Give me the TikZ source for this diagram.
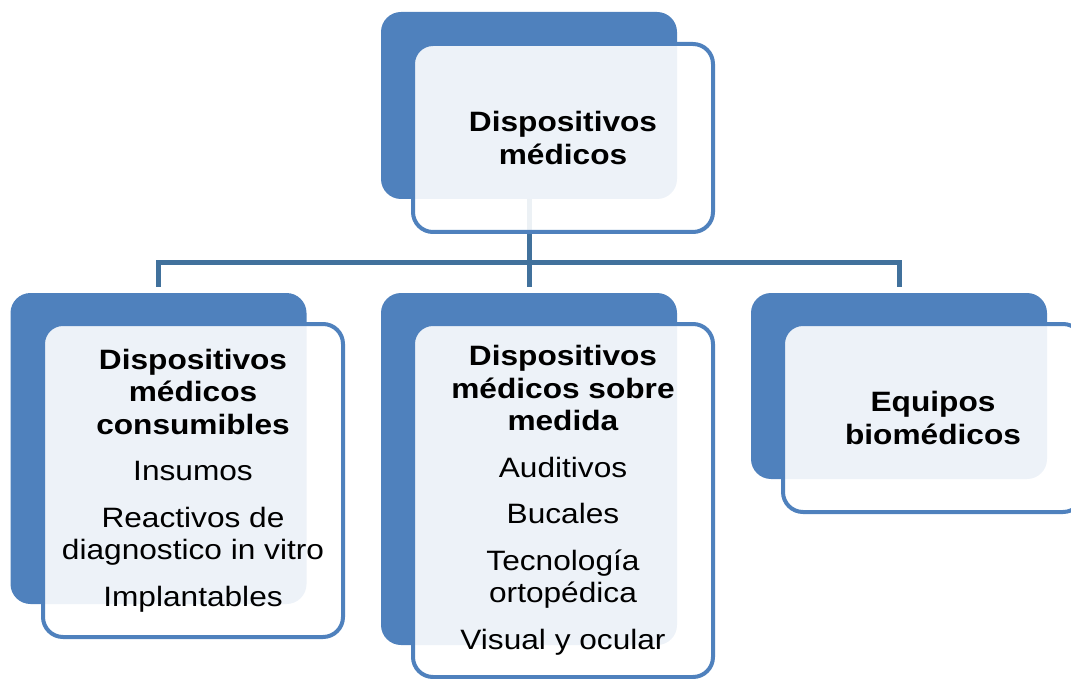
\documentclass[tikz,border=0pt]{standalone}
\usepackage{fontspec}
\setmainfont[FakeStretch=1.13]{Liberation Sans}
\definecolor{accent}{HTML}{4F81BD}
\definecolor{conncol}{HTML}{41719C}
\tikzset{
  backbox/.style={fill=accent, draw=none, rounded corners=20pt, minimum width=296pt, inner sep=0pt},
  frontbox/.style={draw=accent, line width=4pt, fill=white, fill opacity=0.9, text opacity=1,
    rounded corners=20pt, minimum width=300pt, inner sep=0pt, align=center,
    font=\fontsize{28}{32.5}\selectfont},
  conn/.style={draw=conncol, line width=5pt}
}
\begin{document}
\begin{tikzpicture}[x=1pt,y=-1pt]
\useasboundingbox (0,0) rectangle (1071,679);
\clip (0,0) rectangle (1071,679);
% back boxes
\node[backbox, minimum height=187pt] (b0) at (529,105.5) {};
\node[backbox, minimum height=311pt] (b1) at (158.5,448.5) {};
\node[backbox, minimum height=352pt] (b2) at (529,469) {};
\node[backbox, minimum height=186pt] (b3) at (899,386) {};
% connectors
\coordinate (bus) at (0,262);
\draw[conn] (b0.south) -- (b0.south |- bus);
\draw[conn] ([yshift=6pt]b1.north) -- (b1.north |- bus) -- (b3.north |- bus) -- ([yshift=6pt]b3.north);
\draw[conn] (b2.north |- bus) -- ([yshift=6pt]b2.north);
% front boxes
\node[frontbox, minimum height=188pt] (f0) at (563,138) {\textbf{Dispositivos}\\\textbf{médicos}};
\node[frontbox, minimum height=313pt] (f1) at (193,480.5) {\textbf{Dispositivos}\\\textbf{médicos}\\\textbf{consumibles}\\[14pt]Insumos\\[14pt]Reactivos de\\diagnostico in vitro\\[14pt]Implantables};
\node[frontbox, minimum height=353pt] (f2) at (563,500.5) {\textbf{Dispositivos}\\\textbf{médicos sobre}\\\textbf{medida}\\[14pt]Auditivos\\[14pt]Bucales\\[14pt]Tecnología\\ortopédica\\[14pt]Visual y ocular};
\node[frontbox, minimum height=188pt] (f3) at (933,418) {\textbf{Equipos}\\\textbf{biomédicos}};
\end{tikzpicture}
\end{document}
